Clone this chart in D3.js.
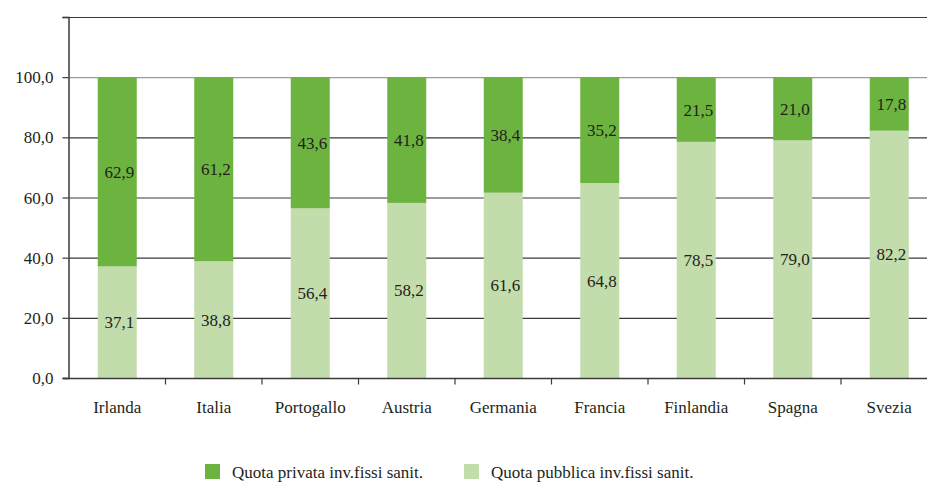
<!DOCTYPE html>
<html>
<head>
<meta charset="utf-8">
<script src="https://cdn.jsdelivr.net/npm/d3@7"></script>
<style>
  body { margin: 0; background: #fff; }
  svg text { font-family: "Liberation Serif", "DejaVu Serif", serif; fill: #231f20; }
</style>
</head>
<body>
<div id="chart"></div>
<script>
var countries = ["Irlanda", "Italia", "Portogallo", "Austria", "Germania", "Francia", "Finlandia", "Spagna", "Svezia"];
var pubblica = [37.1, 38.8, 56.4, 58.2, 61.6, 64.8, 78.5, 79.0, 82.2];
var privata = [62.9, 61.2, 43.6, 41.8, 38.4, 35.2, 21.5, 21.0, 17.8];
var yTicks = [0, 20, 40, 60, 80, 100, 120];
var seriesNames = ["Quota privata inv.fissi sanit.", "Quota pubblica inv.fissi sanit."];

var W = 927, H = 484;
var margin = {top: 17, left: 69, bottom: 106};
var colPriv = "#6db33f", colPub = "#c3dcab";
var fontF = '"Liberation Serif", "DejaVu Serif", serif';

var svg = d3.select("#chart").append("svg")
    .attr("width", W)
    .attr("height", H)
    .attr("font-family", fontF);

var x = d3.scaleBand()
  .domain(countries)
  .range([margin.left, margin.left + 96.5 * countries.length])
  .padding(0);

var y = d3.scaleLinear()
  .domain([0, 120])
  .range([H - margin.bottom, margin.top]);

var fmt = function(v) { return d3.format(".1f")(v).replace(".", ","); };

// gridlines
svg.append("g").selectAll("line")
  .data(yTicks.filter(function(d) { return d > 0; }))
  .enter().append("line")
    .attr("x1", margin.left)
    .attr("x2", W)
    .attr("y1", function(d) { return y(d) + 0.5; })
    .attr("y2", function(d) { return y(d) + 0.5; })
    .attr("stroke", function(d) { return d == 100 ? "#9a9a9a" : "#3a3a3a"; })
    .attr("stroke-width", 1.2);

var barW = 39;
var rows = countries.map(function(c, i) { return {c: c, pub: pubblica[i], priv: privata[i]}; });

// public share (bottom)
svg.append("g").selectAll("rect")
  .data(rows)
  .enter().append("rect")
    .attr("x", function(d) { return x(d.c) + (x.bandwidth() - barW) / 2; })
    .attr("width", barW)
    .attr("y", function(d) { return y(d.pub); })
    .attr("height", function(d) { return y(0) - y(d.pub); })
    .attr("fill", colPub);

// private share (top)
svg.append("g").selectAll("rect")
  .data(rows)
  .enter().append("rect")
    .attr("x", function(d) { return x(d.c) + (x.bandwidth() - barW) / 2; })
    .attr("width", barW)
    .attr("y", function(d) { return y(d.pub + d.priv); })
    .attr("height", function(d) { return y(d.pub) - y(d.pub + d.priv); })
    .attr("fill", colPriv);

// value labels
var lab = svg.append("g").style("font-size", "17px").attr("text-anchor", "middle");
lab.selectAll("text.pub")
  .data(rows)
  .enter().append("text")
    .attr("x", function(d) { return x(d.c) + x.bandwidth() / 2 + 2; })
    .attr("y", function(d) { return (y(0) + y(d.pub)) / 2 + 6; })
    .text(function(d) { return fmt(d.pub); });
lab.selectAll("text.priv")
  .data(rows)
  .enter().append("text")
    .attr("x", function(d) { return x(d.c) + x.bandwidth() / 2 + 2; })
    .attr("y", function(d) { return (y(d.pub) + y(d.pub + d.priv)) / 2 + 6; })
    .text(function(d) { return fmt(d.priv); });

// y axis
var yAxis = svg.append("g")
  .attr("transform", "translate(" + (margin.left - 0.5) + ",0)")
  .call(d3.axisLeft(y).tickValues(yTicks).tickSize(6).tickPadding(9)
    .tickFormat(function(d) { return d == 120 ? "" : fmt(d); }));
yAxis.attr("font-family", fontF).attr("font-size", 17);
yAxis.select(".domain").attr("stroke", "#3a3a3a").attr("stroke-width", 1.5);
yAxis.selectAll(".tick line").attr("stroke", "#3a3a3a").attr("stroke-width", 1.2);
yAxis.selectAll("text").attr("fill", "#231f20").attr("dy", "0.33em");

// x axis
var xAxis = svg.append("g")
  .attr("transform", "translate(0," + (y(0) + 0.5) + ")");
xAxis.append("line")
  .attr("x1", margin.left - 6)
  .attr("x2", W)
  .attr("stroke", "#3a3a3a")
  .attr("stroke-width", 1.5);
xAxis.selectAll("line.tk")
  .data(countries.slice(1))
  .enter().append("line")
    .attr("x1", function(d) { return x(d); })
    .attr("x2", function(d) { return x(d); })
    .attr("y1", 0)
    .attr("y2", 6)
    .attr("stroke", "#3a3a3a")
    .attr("stroke-width", 1.2);
xAxis.selectAll("text")
  .data(countries)
  .enter().append("text")
    .attr("x", function(d) { return x(d) + x.bandwidth() / 2; })
    .attr("y", 34)
    .attr("text-anchor", "middle")
    .style("font-size", "17px")
    .text(function(d) { return d; });

// legend
var legItems = [{name: seriesNames[0], col: colPriv, x: 205}, {name: seriesNames[1], col: colPub, x: 464}];
var leg = svg.append("g").selectAll("g")
  .data(legItems)
  .enter().append("g")
    .attr("transform", function(d) { return "translate(" + d.x + ",464)"; });
leg.append("rect")
  .attr("width", 15)
  .attr("height", 15)
  .attr("fill", function(d) { return d.col; });
leg.append("text")
  .attr("x", 27)
  .attr("y", 14)
  .style("font-size", "17px")
  .text(function(d) { return d.name; });
</script>
</body>
</html>
